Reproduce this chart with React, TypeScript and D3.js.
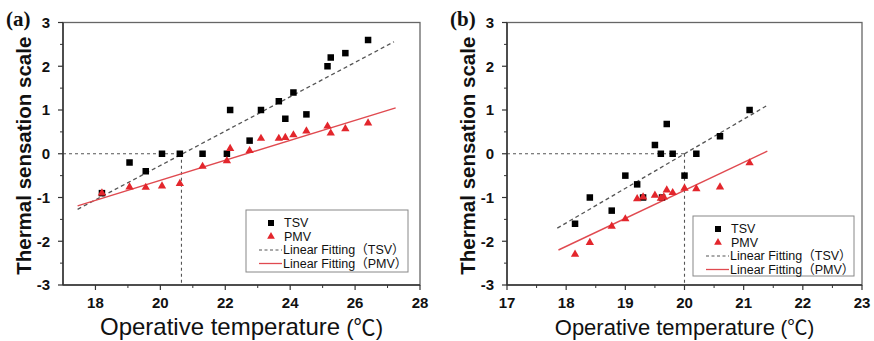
import React from "react";
import * as d3 from "d3";

// Panel (a): operative temperature (°C) for each survey, with TSV and PMV votes
const tempA = [18.2, 19.05, 19.55, 20.05, 20.6, 21.3, 22.05, 22.15, 22.75, 23.1, 23.65, 23.85, 24.1, 24.5, 25.15, 25.25, 25.7, 26.4];
const tsvA = [-0.9, -0.2, -0.4, 0, 0, 0, 0, 1.0, 0.3, 1.0, 1.2, 0.8, 1.4, 0.9, 2.0, 2.2, 2.3, 2.6];
const pmvA = [-0.9, -0.76, -0.77, -0.74, -0.68, -0.29, -0.16, 0.12, 0.07, 0.35, 0.35, 0.37, 0.43, 0.52, 0.63, 0.47, 0.57, 0.7];
// Fitted lines, given by their end points [temperature, scale]
const fitTsvA: [number, number][] = [[17.45, -1.27], [27.2, 2.56]];
const fitPmvA: [number, number][] = [[17.45, -1.19], [27.25, 1.05]];
const neutralA = 20.65;

// Panel (b)
const tempTsvB = [18.15, 18.4, 18.77, 19.0, 19.2, 19.3, 19.5, 19.6, 19.62, 19.7, 19.8, 20.0, 20.2, 20.6, 21.1];
const tsvB = [-1.6, -1.0, -1.3, -0.5, -0.7, -1.0, 0.2, 0.0, -1.0, 0.68, 0.0, -0.5, 0.0, 0.4, 1.0];
const tempPmvB = [18.15, 18.4, 18.77, 19.0, 19.2, 19.3, 19.5, 19.6, 19.65, 19.7, 19.8, 20.0, 20.2, 20.6, 21.1];
const pmvB = [-2.3, -2.03, -1.66, -1.49, -1.03, -0.99, -0.95, -1.02, -0.99, -0.83, -0.89, -0.79, -0.8, -0.76, -0.21];
const fitTsvB: [number, number][] = [[17.85, -1.7], [21.38, 1.09]];
const fitPmvB: [number, number][] = [[17.87, -2.2], [21.4, 0.06]];
const neutralB = 20.0;

const xTicksA = [18, 20, 22, 24, 26, 28];
const xTicksB = [17, 18, 19, 20, 21, 22, 23];
const yTicks = [-3, -2, -1, 0, 1, 2, 3];

const legendLabels = ["TSV", "PMV", "Linear Fitting（TSV）", "Linear Fitting（PMV）"];

const RED = "#e3262c";
const FIT_RED = "#e04a50";
const AXIS = "#333";
const FRAME = "#666";
const SANS = "Arial, 'Liberation Sans', 'Noto Sans CJK SC', sans-serif";

type PanelProps = {
  label: string;
  left: number;
  right: number;
  xDomain: [number, number];
  xTicks: number[];
  xMinor: number[];
  tsvX: number[];
  tsvY: number[];
  pmvX: number[];
  pmvY: number[];
  fitTsv: [number, number][];
  fitPmv: [number, number][];
  neutral: number;
  titleSize: number;
  legend: { x: number; y: number; w: number; h: number };
};

const TOP = 22.5;
const BOTTOM = 285;

function Panel(p: PanelProps) {
  const x = d3.scaleLinear().domain(p.xDomain).range([p.left, p.right]);
  const y = d3.scaleLinear().domain([-3, 3]).range([BOTTOM, TOP]);
  const line = d3
    .line<[number, number]>()
    .x((d) => x(d[0]))
    .y((d) => y(d[1]));
  const yMinor = d3.range(-2.5, 3, 1);
  const sq = 6.5;
  const tri = d3.symbol(d3.symbolTriangle, 30)();
  const cx = (p.left + p.right) / 2;
  const L = p.legend;
  const rowY = (i: number) => L.y + 13 + i * 13.5;

  return (
    <g>
      {/* panel letter */}
      <text
        x={p.left - 57}
        y={26}
        fontFamily="'Times New Roman', 'Liberation Serif', serif"
        fontWeight="bold"
        fontSize={21}
        fill="#111"
      >
        {p.label}
      </text>

      {/* frame */}
      <rect x={p.left} y={TOP} width={p.right - p.left} height={BOTTOM - TOP} fill="none" stroke={FRAME} strokeWidth={1.3} />

      {/* neutral-temperature guide lines */}
      <line x1={p.left} x2={x(p.neutral)} y1={y(0)} y2={y(0)} stroke="#555" strokeWidth={1.1} strokeDasharray="3,3" />
      <line x1={x(p.neutral)} x2={x(p.neutral)} y1={y(0)} y2={BOTTOM} stroke="#555" strokeWidth={1.1} strokeDasharray="3,3" />

      {/* fitted lines */}
      <path d={line(p.fitTsv) || ""} fill="none" stroke="#555" strokeWidth={1.3} strokeDasharray="4,3" />
      <path d={line(p.fitPmv) || ""} fill="none" stroke={FIT_RED} strokeWidth={1.4} />

      {/* markers */}
      {p.tsvX.map((t, i) => (
        <rect key={"s" + i} x={x(t) - sq / 2} y={y(p.tsvY[i]) - sq / 2} width={sq} height={sq} fill="#000" />
      ))}
      {p.pmvX.map((t, i) => (
        <path key={"t" + i} d={tri || ""} transform={`translate(${x(t)},${y(p.pmvY[i])})`} fill={RED} />
      ))}

      {/* axes */}
      <line x1={p.left} x2={p.left} y1={TOP} y2={BOTTOM} stroke={AXIS} strokeWidth={1.5} />
      <line x1={p.left} x2={p.right} y1={BOTTOM} y2={BOTTOM} stroke={AXIS} strokeWidth={1.5} />
      {p.xTicks.map((t) => (
        <g key={"xt" + t}>
          <line x1={x(t)} x2={x(t)} y1={BOTTOM} y2={BOTTOM + 5} stroke={AXIS} strokeWidth={1.2} />
          <text x={x(t)} y={308} textAnchor="middle" fontFamily={SANS} fontWeight="bold" fontSize={15} fill="#111">
            {t}
          </text>
        </g>
      ))}
      {p.xMinor.map((t) => (
        <line key={"xm" + t} x1={x(t)} x2={x(t)} y1={BOTTOM} y2={BOTTOM + 3} stroke={AXIS} strokeWidth={1} />
      ))}
      {yTicks.map((t) => (
        <g key={"yt" + t}>
          <line x1={p.left - 5} x2={p.left} y1={y(t)} y2={y(t)} stroke={AXIS} strokeWidth={1.2} />
          <text x={p.left - 13} y={y(t)} dy="0.36em" textAnchor="end" fontFamily={SANS} fontWeight="bold" fontSize={15} fill="#111">
            {t}
          </text>
        </g>
      ))}
      {yMinor.map((t) => (
        <line key={"ym" + t} x1={p.left - 3} x2={p.left} y1={y(t)} y2={y(t)} stroke={AXIS} strokeWidth={1} />
      ))}

      {/* axis titles */}
      <text
        transform={`translate(${p.left - 40},${(TOP + BOTTOM) / 2 + 2}) rotate(-90)`}
        textAnchor="middle"
        dominantBaseline="central"
        fontFamily={SANS}
        fontWeight="bold"
        fontSize={20.5}
        fill="#111"
      >
        Thermal sensation scale
      </text>
      <text x={cx} y={335} textAnchor="middle" fontFamily={SANS} fontSize={p.titleSize} fill="#111">
        Operative temperature
        <tspan fontSize={p.titleSize * 0.92}>{" (℃)"}</tspan>
      </text>

      {/* legend */}
      <rect x={L.x} y={L.y} width={L.w} height={L.h} fill="#fff" stroke="#888" strokeWidth={1} />
      <rect x={L.x + 22} y={rowY(0) - 3} width={6} height={6} fill="#000" />
      <path d={d3.symbol(d3.symbolTriangle, 26)() || ""} transform={`translate(${L.x + 25},${rowY(1)})`} fill={RED} />
      <line x1={L.x + 13} x2={L.x + 36} y1={rowY(2)} y2={rowY(2)} stroke="#555" strokeWidth={1.2} strokeDasharray="3,2.5" />
      <line x1={L.x + 13} x2={L.x + 36} y1={rowY(3)} y2={rowY(3)} stroke={FIT_RED} strokeWidth={1.3} />
      {legendLabels.map((s, i) => (
        <text key={s} x={L.x + (i < 2 ? 38 : 37)} y={rowY(i)} dy="0.35em" fontFamily={SANS} fontSize={12.5} fill="#111">
          {s}
        </text>
      ))}
    </g>
  );
}

export default function App() {
  return (
    <svg
      width={874}
      height={341}
      viewBox="0 0 874 341"
      style={{ position: "absolute", left: 0, top: 0, background: "#fff" }}
    >
      <rect width={874} height={341} fill="#fff" />
      <Panel
        label="(a)"
        left={63}
        right={420}
        xDomain={[17, 28]}
        xTicks={xTicksA}
        xMinor={[19, 21, 23, 25, 27]}
        tsvX={tempA}
        tsvY={tsvA}
        pmvX={tempA}
        pmvY={pmvA}
        fitTsv={fitTsvA}
        fitPmv={fitPmvA}
        neutral={neutralA}
        titleSize={24}
        legend={{ x: 246, y: 210, w: 162, h: 62 }}
      />
      <Panel
        label="(b)"
        left={507}
        right={862}
        xDomain={[17, 23]}
        xTicks={xTicksB}
        xMinor={[17.5, 18.5, 19.5, 20.5, 21.5, 22.5]}
        tsvX={tempTsvB}
        tsvY={tsvB}
        pmvX={tempPmvB}
        pmvY={pmvB}
        fitTsv={fitTsvB}
        fitPmv={fitPmvB}
        neutral={neutralB}
        titleSize={22}
        legend={{ x: 693, y: 216, w: 161, h: 60 }}
      />
    </svg>
  );
}
